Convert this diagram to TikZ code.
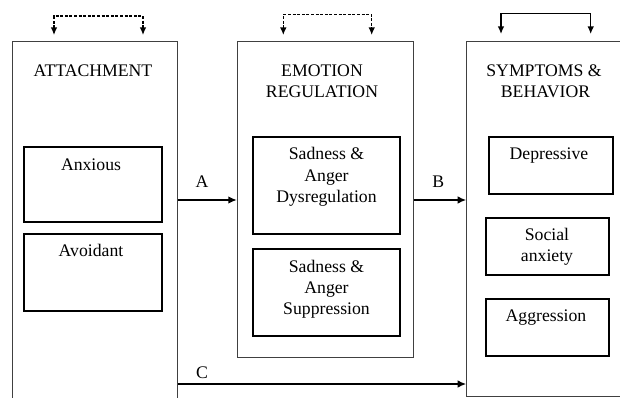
\documentclass[tikz,border=0pt]{standalone}
\usepackage{fontspec}
\setmainfont{Liberation Serif}
\usetikzlibrary{arrows.meta}
\begin{document}
\begin{tikzpicture}[x=1pt,y=-1pt,
  outerbox/.style={draw=black!75, line width=1pt, inner sep=0pt},
  inbox/.style={draw=black, line width=1.8pt, inner sep=0pt},
  txt/.style={font=\fontsize{17.7}{21}\selectfont, anchor=base, inner sep=0pt},
  arr/.style={line width=1.5pt, -{Latex[length=8.5pt,width=7.5pt]}},
  fb/.style={line width=1.3pt, {Latex[length=7.5pt,width=6.5pt]}-{Latex[length=7.5pt,width=6.5pt]}},
  fbdash/.style={fb, dash pattern=on 3pt off 1.6pt}
]
\clip (0,0) rectangle (620,398);
\fill[white] (0,0) rectangle (620,398);
% outer boxes
\node[outerbox, minimum width=165.4pt, minimum height=378.3pt] (att) at (95,230.85) {};
\node[outerbox, minimum width=176.2pt, minimum height=315.8pt] (emo) at (325.4,199.6) {};
\node[outerbox, minimum width=155.3pt, minimum height=355pt] (sym) at (544.35,219.2) {};
% headers
\node[txt] (t1) at (93,77) {ATTACHMENT};
\node[txt] (t2a) at (322,77) {EMOTION};
\node[txt] (t2b) at (322,97.3) {REGULATION};
\node[txt] (t3a) at (544,77) {SYMPTOMS \&};
\node[txt] (t3b) at (545.5,97.3) {BEHAVIOR};
% inner boxes
\node[inbox, minimum width=138.3pt, minimum height=75.6pt] (anx) at (93.2,184.5) {};
\node[inbox, minimum width=138.3pt, minimum height=77pt] (avo) at (93.2,272.5) {};
\node[inbox, minimum width=147pt, minimum height=97.3pt] (dys) at (326.5,185.3) {};
\node[inbox, minimum width=147pt, minimum height=87pt] (sup) at (326.5,292.5) {};
\node[inbox, minimum width=123.7pt, minimum height=57.6pt] (dep) at (550.8,165.5) {};
\node[inbox, minimum width=123.6pt, minimum height=57.3pt] (soc) at (547.5,246.3) {};
\node[inbox, minimum width=123.6pt, minimum height=57pt] (agg) at (547.5,327.5) {};
% inner texts
\node[txt] (anxt) at (91,170) {Anxious};
\node[txt] (avot) at (91,256.7) {Avoidant};
\node[txt] (dys1) at (326.5,160) {Sadness \&};
\node[txt] (dys2) at (326.5,181) {Anger};
\node[txt] (dys3) at (326.5,202) {Dysregulation};
\node[txt] (sup1) at (326.5,272) {Sadness \&};
\node[txt] (sup2) at (326.5,293) {Anger};
\node[txt] (sup3) at (326.5,314) {Suppression};
\node[txt] (dept) at (549,159.5) {Depressive};
\node[txt] (soct1) at (547,240) {Social};
\node[txt] (soct2) at (547,261.5) {anxiety};
\node[txt] (aggt) at (546,321.7) {Aggression};
% path labels
\node[txt] (lA) at (202,187.5) {A};
\node[txt] (lB) at (438.3,187.5) {B};
\node[txt] (lC) at (202,378) {C};
% connectors
\draw[arr] (att.east |- 0,200) -- (emo.west |- 0,200);
\draw[arr] (emo.east |- 0,200) -- (sym.west |- 0,200);
\draw[arr] (att.east |- 0,384) -- (sym.west |- 0,384);
% feedback arrows
\coordinate (f1a) at (54,35); \coordinate (f1b) at (143,35);
\coordinate (f2a) at (283.3,35); \coordinate (f2b) at (371.7,35);
\coordinate (f3a) at (501,34); \coordinate (f3b) at (590.7,34);
\draw[fbdash] (f1a) -- (54,16) -- (143,16) -- (f1b);
\draw[fbdash] (f2a) -- (283.3,14.5) -- (371.7,14.5) -- (f2b);
\draw[fb] (f3a) -- (501,13.5) -- (590.7,13.5) -- (f3b);
\end{tikzpicture}
\end{document}
